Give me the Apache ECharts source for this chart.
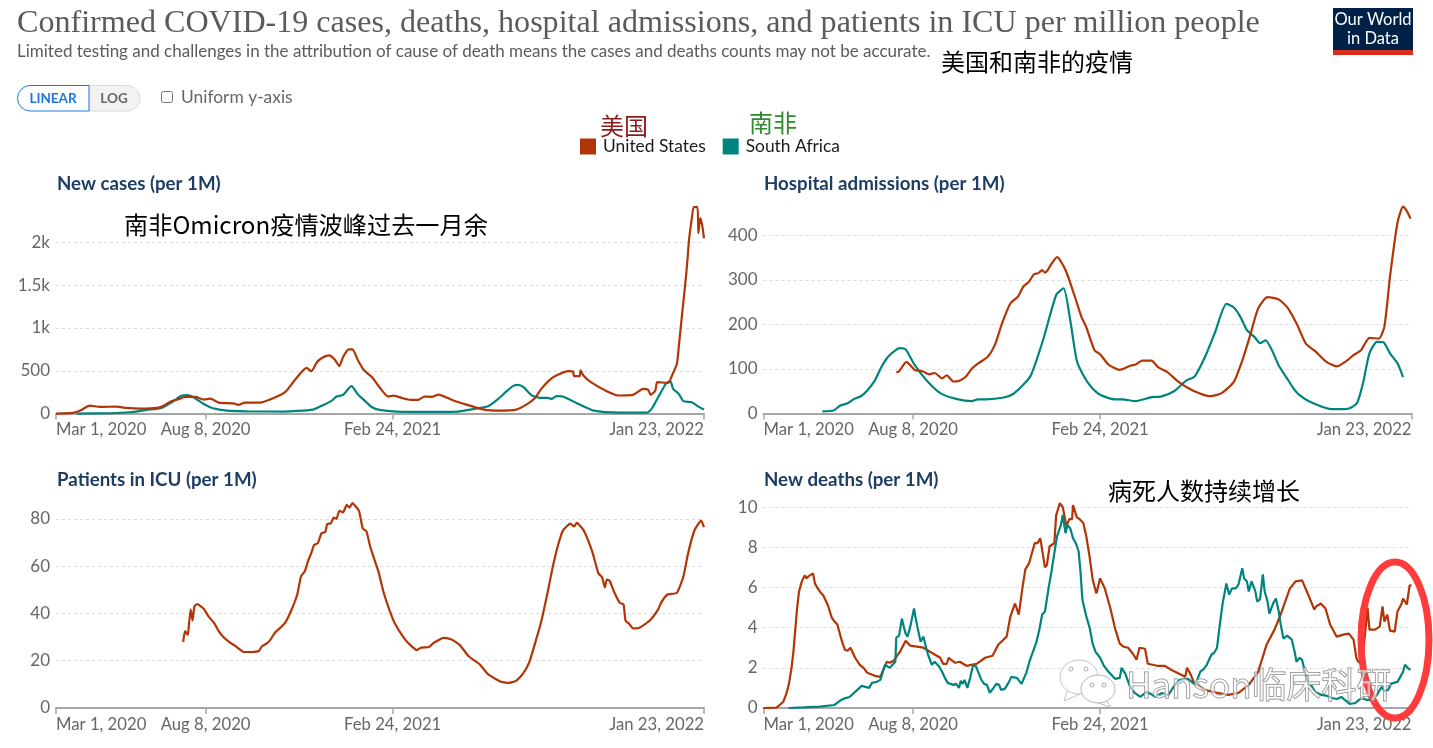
<!DOCTYPE html>
<html>
<head>
<meta charset="utf-8">
<title>COVID-19 United States and South Africa</title>
<style>
html, body { margin: 0; padding: 0; background: #fff; }
#main { width: 1433px; height: 748px; }
</style>
<script src="https://cdn.jsdelivr.net/npm/echarts@6/dist/echarts.min.js"></script>
</head>
<body>
<div id="main"></div>
<script>
// x values are days since Mar 1, 2020
var xTickDays = [0, 160, 360, 693];
var xTickLabels = ['Mar 1, 2020', 'Aug 8, 2020', 'Feb 24, 2021', 'Jan 23, 2022'];

var caseTicks = [0, 500, 1000, 1500, 2000];
var caseTickLabels = ['0', '500', '1k', '1.5k', '2k'];
var hospTicks = [0, 100, 200, 300, 400];
var icuTicks = [0, 20, 40, 60, 80];
var deathTicks = [0, 2, 4, 6, 8, 10];

var usCases = [[0,0],[18,8],[26,35],[36,93],[47,78],[65,82],[75,66],[90,58],[108,66],[115,93],[124,148],[131,168],[138,195],[149,195],[158,164],[165,175],[174,129],[190,120],[195,101],[202,129],[218,129],[229,164],[245,250],[255,386],[268,534],[273,495],[279,600],[284,647],[292,679],[298,632],[303,554],[307,660],[313,749],[317,749],[323,620],[329,511],[338,425],[346,308],[355,199],[361,210],[371,179],[379,160],[388,164],[394,199],[402,195],[409,222],[425,152],[439,105],[459,43],[475,35],[491,43],[503,105],[512,180],[519,289],[528,394],[535,445],[548,496],[553,492],[554,437],[560,437],[561,504],[564,445],[572,367],[589,262],[602,211],[617,219],[628,289],[633,281],[636,219],[641,270],[643,367],[655,359],[658,426],[664,582],[666,777],[670,1207],[673,1519],[675,1754],[677,2027],[680,2281],[682,2410],[686,2410],[687,2105],[689,2281],[691,2203],[693,2047]];
var saCases = [[22,0],[58,4],[79,16],[97,43],[113,66],[124,133],[134,207],[140,215],[147,191],[158,113],[168,62],[183,35],[204,27],[243,23],[275,47],[286,101],[295,152],[300,199],[307,218],[316,320],[323,222],[330,152],[338,74],[346,43],[364,23],[393,20],[411,20],[430,23],[443,47],[462,86],[473,172],[482,262],[489,324],[494,336],[500,309],[509,211],[518,184],[526,184],[530,172],[535,203],[542,199],[557,121],[575,35],[603,12],[632,12],[637,55],[644,191],[651,328],[653,355],[657,380],[660,289],[666,230],[671,145],[680,133],[687,82],[693,47]];

var usHosp = [[142,92],[145,95],[153,116],[158,106],[162,97],[170,95],[177,88],[183,91],[191,79],[196,86],[203,72],[209,73],[216,82],[223,101],[230,113],[240,128],[248,157],[255,202],[264,247],[272,262],[278,285],[284,296],[289,312],[294,315],[298,322],[301,316],[304,322],[308,336],[314,351],[323,322],[333,262],[340,217],[345,195],[354,142],[360,133],[369,110],[381,98],[393,108],[398,110],[405,119],[415,119],[422,104],[432,93],[444,71],[459,52],[478,39],[490,46],[503,71],[512,119],[520,172],[529,236],[539,261],[551,256],[561,236],[571,198],[580,157],[590,140],[602,116],[613,106],[624,119],[631,131],[639,142],[648,170],[658,168],[664,195],[670,307],[678,428],[684,464],[688,454],[692,437]];
var saHosp = [[63,5],[75,7],[82,18],[90,23],[97,33],[104,39],[111,52],[119,74],[126,104],[133,127],[141,142],[146,147],[152,144],[162,108],[175,73],[189,46],[206,33],[223,28],[229,32],[238,32],[257,36],[267,44],[278,65],[286,86],[299,165],[313,266],[321,281],[328,210],[335,119],[342,86],[350,61],[361,41],[376,32],[384,32],[398,28],[415,37],[425,38],[439,50],[452,74],[461,83],[473,131],[483,183],[495,246],[503,238],[510,217],[517,187],[525,172],[531,158],[537,164],[544,141],[551,108],[559,82],[566,59],[573,42],[585,26],[607,10],[622,10],[628,13],[635,25],[641,67],[648,135],[656,161],[663,160],[670,135],[678,113],[684,82]];

var usIcu = [[136,28],[138,32.5],[141,31],[142,34.6],[144,41.7],[146,37],[148,43],[151,44],[158,42],[163,38.8],[169,36],[174,32.5],[179,30],[185,28],[192,26.2],[201,23.7],[209,23.7],[217,24.1],[220,26],[225,27.2],[229,28.7],[234,31.8],[240,34],[245,36],[251,40.7],[258,48],[262,55.7],[266,57.8],[270,62.7],[273,65.5],[276,69],[280,69.7],[284,74],[288,74.4],[290,77.8],[294,78.2],[297,80.6],[300,80],[303,83.4],[307,82.8],[311,85.9],[314,84.8],[317,86.7],[324,83.4],[328,76],[332,74.7],[336,68.3],[340,63.4],[345,57.5],[350,49.4],[357,41],[363,35.3],[372,29.7],[379,26.6],[386,24.5],[390,25.5],[399,25.8],[404,27.6],[415,29.7],[423,29],[432,26.6],[441,22],[453,18.5],[462,14.3],[475,11.2],[484,10.6],[492,11.5],[499,14.3],[506,19.2],[513,28.3],[519,36.7],[526,49.4],[531,59.2],[536,67.6],[542,75],[550,78],[554,76.8],[557,78.3],[564,75.4],[569,71],[574,65.5],[580,57],[584,55.3],[587,51],[589,54.3],[592,53.9],[597,49],[603,44.5],[607,43.8],[609,37],[613,35.6],[617,33.7],[624,34],[635,37],[644,41.7],[647,44.5],[654,48],[664,48.7],[671,55.7],[676,65.5],[683,75.4],[690,79.3],[693,76.5]];

var usDeaths = [[0,0],[14,0.02],[21,0.3],[24,0.65],[27,1.15],[30,2],[32,2.8],[34,3.9],[36,5],[38,5.8],[41,6.3],[44,6.6],[46,6.45],[48,6.55],[50,6.5],[53,6.7],[55,6.2],[58,5.95],[61,5.75],[64,5.6],[69,5.1],[73,4.5],[76,4.3],[79,4.15],[84,3.3],[87,2.9],[90,2.85],[93,3],[98,2.5],[103,2.15],[107,2],[111,1.75],[115,1.68],[119,1.6],[125,1.55],[128,1.9],[132,2.3],[135,2.25],[139,2.35],[146,2.8],[152,3.35],[157,3.1],[164,3.05],[171,3],[178,2.8],[189,2.5],[192,2.2],[196,2.2],[198,2.5],[205,2.25],[210,2.3],[217,2.1],[228,2.2],[237,2.5],[245,2.6],[251,3.15],[260,3.55],[264,4.55],[269,5.2],[273,4.65],[277,6],[280,6.9],[284,7.2],[287,7.7],[290,8.2],[293,8.2],[296,8.45],[301,7],[303,7.1],[306,8.05],[311,8.2],[313,9.6],[317,10.2],[320,10],[322,9.95],[324,9.05],[327,9.4],[330,9.4],[331,10.1],[335,9.5],[338,9.4],[342,9.2],[345,8.6],[349,7.45],[352,6.4],[356,5.7],[360,6.45],[365,5.95],[371,4.95],[376,3.95],[381,3.2],[385,3.05],[390,3],[395,2.7],[399,2.4],[402,3],[408,2.95],[411,2.2],[421,2.1],[429,2.1],[438,1.85],[451,1.55],[453,2],[457,1.65],[460,1.3],[472,0.9],[485,0.75],[497,0.65],[508,0.75],[519,1.15],[529,1.8],[538,3.15],[547,3.95],[553,4.65],[558,5.3],[563,5.95],[569,6.3],[576,6.35],[582,5.7],[589,4.9],[591,5.05],[596,5.2],[601,4.95],[606,4.15],[613,3.55],[620,3.65],[626,3.7],[631,3.4],[634,2.5],[636,2.3],[640,2.2],[644,4],[646,5],[648,3.9],[654,3.9],[659,4.05],[662,5.05],[664,4.3],[667,4.65],[670,3.85],[675,3.8],[678,4.8],[682,5.15],[684,5.45],[688,5.15],[691,6.1],[693,6.1]];
var saDeaths = [[27,0],[43,0.03],[60,0.07],[76,0.15],[82,0.37],[87,0.48],[92,0.55],[98,0.8],[105,1.1],[109,1.05],[113,1],[116,1.25],[121,1.3],[125,1.4],[130,2.15],[135,2],[141,2.3],[142,3.5],[145,3.6],[148,4.45],[150,4.05],[152,3.7],[154,3.55],[157,4.05],[161,4.95],[163,4.4],[165,3.95],[168,3.3],[171,3.55],[174,3],[176,2.65],[180,2.15],[183,2.3],[185,2.2],[188,2.05],[191,1.8],[194,1.5],[197,1.25],[200,1.2],[203,1.15],[206,1.2],[209,1],[211,1.35],[213,1.2],[215,1.4],[217,1.35],[218,1],[221,1.5],[224,2.1],[227,2.1],[233,1.4],[236,1.2],[239,1.15],[242,0.75],[246,1],[249,1.2],[252,1.15],[254,0.9],[258,0.95],[262,1.25],[265,1.55],[271,1.5],[276,1.2],[281,1.75],[285,2.4],[289,2.9],[292,3.3],[295,3.9],[298,4.65],[301,4.8],[305,6],[308,6.8],[311,7.7],[314,8.55],[316,8.5],[318,9.1],[320,9.6],[323,8.7],[325,9.1],[328,8.95],[331,8.45],[334,8.2],[337,7.8],[339,6.8],[341,5.4],[345,4.6],[349,3.95],[352,3.2],[355,2.8],[360,2.5],[364,2.1],[369,1.8],[372,1.65],[376,1.45],[381,1.5],[383,2],[387,1.7],[392,1.05],[397,0.75],[403,0.55],[407,0.7],[410,0.8],[414,0.7],[419,0.55],[426,0.75],[433,0.65],[440,1.15],[445,1.4],[454,1.45],[462,1.15],[467,1.8],[471,1.95],[474,2.15],[479,2.65],[482,2.75],[485,3],[488,4.15],[491,5.2],[493,5.7],[495,6.2],[498,5.65],[501,5.95],[505,5.95],[508,6.15],[512,6.95],[514,6.45],[517,6.3],[519,5.8],[522,6.3],[526,5.8],[528,5.3],[531,5.4],[534,6.65],[536,5.8],[539,5.3],[541,4.7],[545,5.2],[548,5.45],[551,4.8],[553,4.2],[556,3.45],[560,3.6],[565,3.4],[568,2.8],[570,2.3],[573,2.5],[576,2.4],[579,1.8],[583,1.15],[586,1.1],[590,0.8],[597,0.65],[603,0.6],[608,0.5],[613,0.45],[618,0.55],[623,0.35],[627,0.2],[633,0.25],[637,0.4],[640,0.5],[645,0.4],[650,0.4],[656,0.65],[661,1.05],[664,0.85],[668,0.9],[671,1.2],[674,1.25],[678,1.3],[681,1.55],[684,1.8],[686,2.15],[688,2.15],[690,1.95],[692,1.9]];

var US_COLOR = '#b13507';
var SA_COLOR = '#00847e';
var LATO = 'Lato';
var CJK = '"Noto Sans CJK SC"';

function panelTitle(text, left, top) {
    return {
        text: text, left: left, top: top, padding: 0,
        textStyle: {fontFamily: LATO, fontSize: 18.7, fontWeight: 'bold', color: '#1d3d63'}
    };
}

function xAxisFor(gridIndex) {
    return {
        type: 'value', gridIndex: gridIndex, min: 0, max: 693,
        splitLine: {show: false},
        axisLine: {show: true, onZero: false, lineStyle: {color: '#a6a6a6', width: 2}},
        axisTick: {show: true, length: 6, customValues: xTickDays, lineStyle: {color: '#a6a6a6', width: 1.5}},
        axisLabel: {
            customValues: xTickDays, margin: 8, fontFamily: LATO, fontSize: 16.7, color: '#666',
            alignMinLabel: 'left', alignMaxLabel: 'right',
            formatter: function (v) { return xTickLabels[xTickDays.indexOf(v)]; }
        }
    };
}

function yAxisFor(gridIndex, max, ticks, labels) {
    return {
        type: 'value', gridIndex: gridIndex, min: 0, max: max,
        axisLine: {show: false},
        axisTick: {show: false, customValues: ticks},
        splitLine: {show: true, lineStyle: {color: '#dcdcdc', type: [3, 3], width: 1}},
        axisLabel: {
            customValues: ticks, margin: 6, fontFamily: LATO, fontSize: 17, color: '#666',
            formatter: function (v) { return labels ? labels[ticks.indexOf(v)] : String(v); }
        }
    };
}

function lineSeries(name, data, idx, color, smooth) {
    return {
        name: name, type: 'line', data: data, xAxisIndex: idx, yAxisIndex: idx,
        showSymbol: false, symbol: 'none', smooth: smooth || false, clip: false,
        lineStyle: {color: color, width: 2.2}, itemStyle: {color: color},
        emphasis: {disabled: true}
    };
}

function label(text, x, y, size, color, font, extra) {
    var style = {text: text, x: x, y: y, fontSize: size, fontFamily: font || CJK, fill: color, verticalAlign: 'middle'};
    for (var k in extra) style[k] = extra[k];
    return {type: 'text', z: 110, silent: true, style: style};
}

var overlays = [
    // header
    label('Confirmed COVID-19 cases, deaths, hospital admissions, and patients in ICU per million people', 17, 24, 32.1, '#5b5b5b', '"Liberation Serif"'),
    label('Limited testing and challenges in the attribution of cause of death means the cases and deaths counts may not be accurate.', 17, 52, 17, '#5b5b5b', LATO),
    {type: 'rect', z: 100, shape: {x: 1333, y: 8, width: 80, height: 47}, style: {fill: '#002147'}},
    {type: 'rect', z: 101, shape: {x: 1333, y: 50, width: 80, height: 5}, style: {fill: '#dc2e1f'}},
    label('Our World', 1373, 20, 16.5, '#fff', LATO, {align: 'center'}),
    label('in Data', 1373, 39, 16.5, '#fff', LATO, {align: 'center'}),
    // linear / log toggle
    {type: 'rect', z: 100, shape: {x: 89, y: 85.5, width: 51, height: 25.5, r: [0, 13, 13, 0]}, style: {fill: '#f2f2f2', stroke: '#dadada', lineWidth: 1}},
    {type: 'rect', z: 101, shape: {x: 17.5, y: 85.5, width: 71.5, height: 25.5, r: [13, 0, 0, 13]}, style: {fill: '#fff', stroke: '#1d76e0', lineWidth: 1}},
    label('LINEAR', 53, 98.5, 13.5, '#1d76e0', LATO, {align: 'center', fontWeight: 'bold'}),
    label('LOG', 114, 98.5, 13.5, '#666', LATO, {align: 'center', fontWeight: 'bold'}),
    {type: 'rect', z: 100, shape: {x: 161.5, y: 91.5, width: 11, height: 11, r: 2}, style: {fill: '#fff', stroke: '#767676', lineWidth: 1}},
    label('Uniform y-axis', 181, 97, 17.4, '#666', LATO),
    // hand written notes on the screenshot
    label('美国和南非的疫情', 941, 62, 24, '#000'),
    label('美国', 600, 126, 24, '#8b1a1a'),
    label('南非', 749, 123, 24, '#2e8b2e'),
    label('南非Omicron疫情波峰过去一月余', 124, 225, 24.2, '#000'),
    label('病死人数持续增长', 1108, 491, 24, '#000'),
    {type: 'ellipse', z: 100, silent: true, shape: {cx: 1395, cy: 640, rx: 34, ry: 78}, style: {fill: 'none', stroke: '#ff3b3b', lineWidth: 7}},
    // watermark
    {type: 'polygon', z: 102, silent: true, shape: {points: [[1068, 689], [1064, 701], [1080, 694]]}, style: {fill: '#fff', stroke: '#c4c4c4', lineWidth: 1}},
    {type: 'ellipse', z: 102, silent: true, shape: {cx: 1079, cy: 677, rx: 19, ry: 17}, style: {fill: 'rgba(255,255,255,0.9)', stroke: '#c4c4c4', lineWidth: 1}},
    {type: 'circle', z: 102, silent: true, shape: {cx: 1071, cy: 669, r: 2}, style: {fill: '#fff', stroke: '#aaa'}},
    {type: 'circle', z: 102, silent: true, shape: {cx: 1086, cy: 669, r: 2}, style: {fill: '#fff', stroke: '#aaa'}},
    {type: 'polygon', z: 103, silent: true, shape: {points: [[1104, 698], [1112, 708], [1096, 702]]}, style: {fill: '#fff', stroke: '#b5b5b5', lineWidth: 1}},
    {type: 'ellipse', z: 103, silent: true, shape: {cx: 1098, cy: 689, rx: 17, ry: 14}, style: {fill: 'rgba(255,255,255,0.92)', stroke: '#b5b5b5', lineWidth: 1}},
    {type: 'circle', z: 104, silent: true, shape: {cx: 1092, cy: 685, r: 2}, style: {fill: '#fff', stroke: '#aaa'}},
    {type: 'circle', z: 104, silent: true, shape: {cx: 1104, cy: 685, r: 2}, style: {fill: '#fff', stroke: '#aaa'}},
    {type: 'text', z: 105, silent: true, style: {text: 'Hanson临床科研', x: 1126, y: 685, fontSize: 35, fontFamily: CJK, verticalAlign: 'middle', fill: 'rgba(255,255,255,0.55)', stroke: '#7c7c7c', lineWidth: 1}}
];

var option = {
    animation: false,
    backgroundColor: '#fff',
    title: [
        panelTitle('New cases (per 1M)', 57, 174),
        panelTitle('Hospital admissions (per 1M)', 764, 174),
        panelTitle('Patients in ICU (per 1M)', 57, 470),
        panelTitle('New deaths (per 1M)', 764, 470)
    ],
    legend: {
        left: 580, top: 138, padding: 0, itemWidth: 16, itemHeight: 16, itemGap: 17,
        icon: 'rect', data: ['United States', 'South Africa'], selectedMode: false,
        textStyle: {fontFamily: LATO, fontSize: 17.4, color: '#1a1a1a', padding: [0, 0, 0, 2]}
    },
    grid: [
        {left: 56, width: 648, top: 208, height: 205.6},
        {left: 763.5, width: 648, top: 204, height: 209.6},
        {left: 56, width: 648, top: 500, height: 208},
        {left: 763.5, width: 648, top: 501, height: 207}
    ],
    xAxis: [xAxisFor(0), xAxisFor(1), xAxisFor(2), xAxisFor(3)],
    yAxis: [
        yAxisFor(0, 2400, caseTicks, caseTickLabels),
        yAxisFor(1, 470, hospTicks),
        yAxisFor(2, 88, icuTicks),
        yAxisFor(3, 10.3, deathTicks)
    ],
    series: [
        lineSeries('South Africa', saCases, 0, SA_COLOR, 0.2),
        lineSeries('United States', usCases, 0, US_COLOR, 0.2),
        lineSeries('South Africa', saHosp, 1, SA_COLOR, 0.2),
        lineSeries('United States', usHosp, 1, US_COLOR, 0.2),
        lineSeries('United States', usIcu, 2, US_COLOR, 0.15),
        lineSeries('United States', usDeaths, 3, US_COLOR),
        lineSeries('South Africa', saDeaths, 3, SA_COLOR)
    ],
    graphic: overlays
};

var myChart = echarts.init(document.getElementById('main'), null, {renderer: 'canvas'});
myChart.setOption(option);
</script>
</body>
</html>
